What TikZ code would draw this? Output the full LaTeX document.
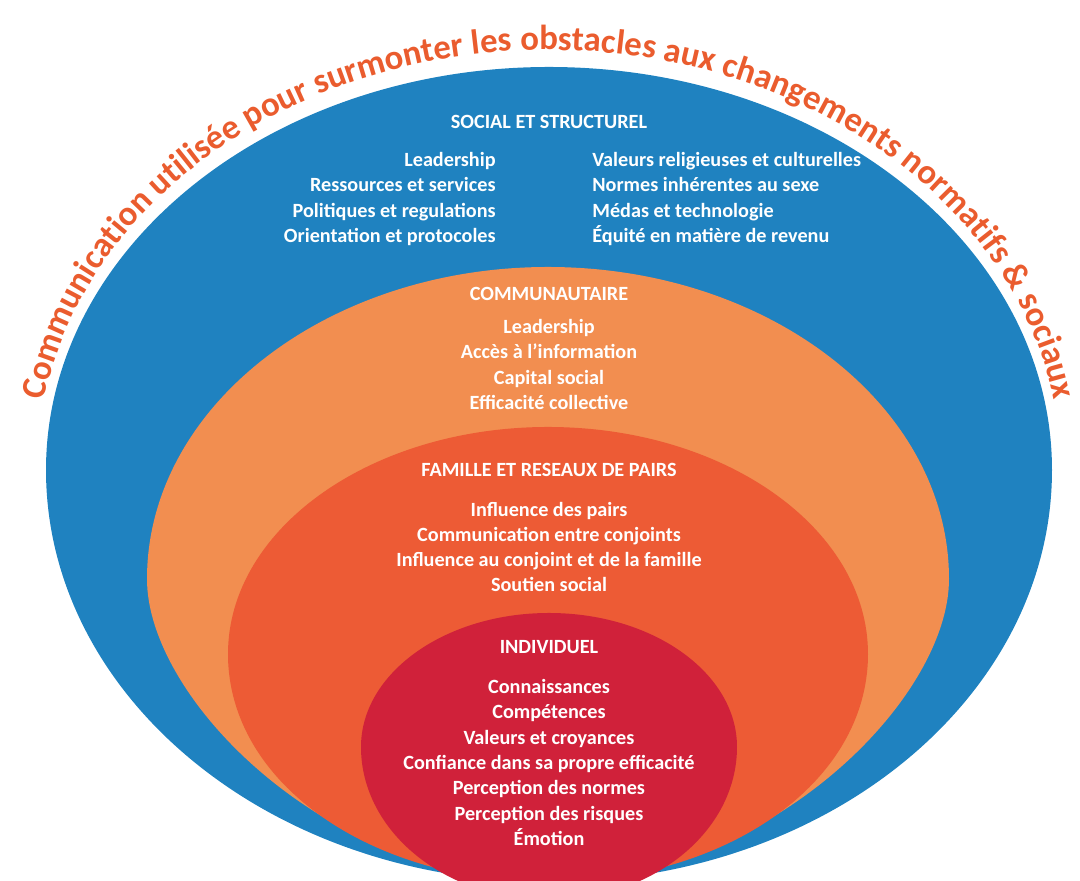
\documentclass[tikz,border=0pt]{standalone}
\usepackage{fontspec}
\setmainfont{Carlito}
\usetikzlibrary{positioning, decorations.text}

\definecolor{socialblue}{RGB}{31,130,192}
\definecolor{commorange}{RGB}{242,142,80}
\definecolor{famorange}{RGB}{237,91,53}
\definecolor{indred}{RGB}{208,33,58}
\definecolor{titleorange}{RGB}{234,92,46}

\begin{document}
\begin{tikzpicture}[x=0.02cm, y=0.02cm,
  head/.style={text=white, font=\bfseries\fontsize{11.5}{14.4}\selectfont, align=center},
  items/.style={text=white, font=\bfseries\fontsize{11.5}{14.4}\selectfont, align=center, inner sep=0pt}
]
\useasboundingbox (0,0) rectangle (1080,881);
\clip (0,0) rectangle (1080,881);

% Outer ring (social et structurel)
\fill[socialblue] (46,411) arc[start angle=180, end angle=0, x radius=503, y radius=403]
  arc[start angle=0, end angle=-180, x radius=503, y radius=412] -- cycle;

% Community ring
\fill[commorange] (147,302) arc[start angle=180, end angle=0, x radius=401, y radius=312]
  .. controls (949,182) and (768,-1) .. (548,-1)
  .. controls (328,-1) and (147,182) .. (147,302) -- cycle;

% Family and peers ring
\fill[famorange] (228,227) arc[start angle=180, end angle=0, x radius=320, y radius=227]
  .. controls (868,97) and (724,-1) .. (548,-1)
  .. controls (372,-1) and (228,97) .. (228,227) -- cycle;

% Individual core
\fill[indred] (361,134) arc[start angle=180, end angle=0, x radius=188, y radius=134]
  arc[start angle=0, end angle=-180, x radius=188, y radius=153] -- cycle;

% Title along the outer arc
\path[decorate, decoration={text along path, text align=center,
  text={|\fontsize{19.8}{19.8}\selectfont\bfseries\color{titleorange}|Communication utilisée pour surmonter les obstacles aux changements normatifs {\&} sociaux}}]
  (37,411) arc[start angle=180, end angle=0, x radius=512, y radius=420];

% Social et structurel
\node[head] (social) at (549,759) {SOCIAL ET STRUCTUREL};
\node[items, align=right, anchor=east] (sociall) at (496,682)
  {Leadership\\Ressources et services\\Politiques et regulations\\Orientation et protocoles};
\node[items, align=left, anchor=west] (socialr) at (592,682)
  {Valeurs religieuses et culturelles\\Normes inhérentes au sexe\\Médas et technologie\\Équité en matière de revenu};

% Communautaire
\node[head] (comm) at (549,587) {COMMUNAUTAIRE};
\node[items] (commitems) at (549,516.5)
  {Leadership\\Accès à l’information\\Capital social\\Efficacité collective};

% Famille et reseaux de pairs
\node[head] (fam) at (549,411) {FAMILLE ET RESEAUX DE PAIRS};
\node[items] (famitems) at (549,334)
  {Influence des pairs\\Communication entre conjoints\\Influence au conjoint et de la famille\\Soutien social};

% Individuel
\node[head] (ind) at (549,234) {INDIVIDUEL};
\node[items] (inditems) at (549,118.5)
  {Connaissances\\Compétences\\Valeurs et croyances\\Confiance dans sa propre efficacité\\Perception des normes\\Perception des risques\\Émotion};

\end{tikzpicture}
\end{document}
